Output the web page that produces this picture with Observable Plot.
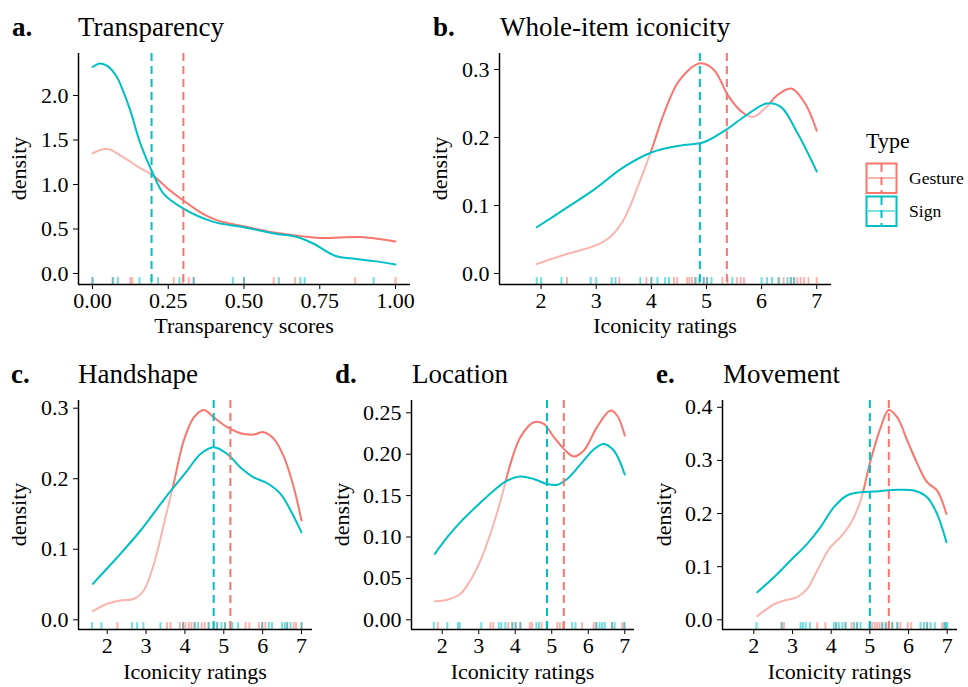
<!DOCTYPE html>
<html><head><meta charset="utf-8">
<script src="https://cdn.jsdelivr.net/npm/d3@7"></script>
<script src="https://cdn.jsdelivr.net/npm/@observablehq/plot@0.6"></script>
<style>
body{margin:0;background:#fff;}
#chart{position:relative;width:968px;height:687px;background:#fff;overflow:hidden;}
#chart svg{position:absolute;}
</style></head><body><div id="chart"></div>
<script>
// ---------- data ----------
const types = ["Gesture", "Sign"];
const panelLetters = ["a.", "b.", "c.", "d.", "e."];
const panelTitles = ["Transparency", "Whole-item iconicity", "Handshape", "Location", "Movement"];
const xTitles = ["Transparency scores", "Iconicity ratings", "Iconicity ratings", "Iconicity ratings", "Iconicity ratings"];
const yTitle = "density";

// a. Transparency
const transGestureX = [0, 0.05, 0.10, 0.155, 0.20, 0.25, 0.30, 0.355, 0.41, 0.50, 0.60, 0.69, 0.75, 0.885, 0.94, 1.0];
const transGestureY = [1.35, 1.40, 1.31, 1.19, 1.10, 0.95, 0.82, 0.69, 0.60, 0.53, 0.46, 0.42, 0.40, 0.41, 0.39, 0.36];
const transSignX = [0, 0.025, 0.05, 0.08, 0.10, 0.125, 0.158, 0.20, 0.235, 0.30, 0.40, 0.50, 0.60, 0.675, 0.73, 0.80, 0.866, 0.93, 1.0];
const transSignY = [2.32, 2.36, 2.33, 2.21, 2.06, 1.83, 1.46, 1.12, 0.895, 0.73, 0.58, 0.52, 0.45, 0.41, 0.334, 0.20, 0.165, 0.139, 0.10];
const transMeans = [0.30, 0.195];
const transRugGesture = [0.00, 0.067, 0.125, 0.131, 0.268, 0.298, 0.318, 0.334, 0.50, 0.598, 0.668, 0.867, 1.0];
const transRugSign = [0.00, 0.067, 0.084, 0.155, 0.194, 0.216, 0.287, 0.334, 0.463, 0.50, 0.615, 0.686, 0.70, 0.928];

// b. Whole-item iconicity
const wholeGestureX = [1.92, 2.48, 2.98, 3.24, 3.49, 3.75, 4.00, 4.25, 4.51, 4.89, 5.14, 5.39, 5.65, 5.84, 6.09, 6.28, 6.54, 6.79, 7.00];
const wholeGestureY = [0.014, 0.029, 0.041, 0.053, 0.078, 0.127, 0.181, 0.240, 0.284, 0.309, 0.299, 0.262, 0.237, 0.230, 0.245, 0.262, 0.272, 0.250, 0.210];
const wholeSignX = [1.92, 2.48, 2.98, 3.49, 4.00, 4.51, 4.95, 5.33, 5.71, 6.09, 6.35, 6.66, 7.00];
const wholeSignY = [0.068, 0.0975, 0.1245, 0.156, 0.178, 0.188, 0.193, 0.210, 0.232, 0.250, 0.245, 0.205, 0.150];
const wholeMeans = [5.37, 4.88];
const wholeRugGesture = [2.47, 3.42, 3.91, 4.00, 4.41, 4.47, 4.65, 4.69, 4.74, 4.80, 4.95, 5.01, 5.29, 5.38, 5.55, 5.62, 5.68, 6.31, 6.40, 6.53, 6.59, 6.65, 6.71, 6.77, 6.85, 7.0];
const wholeRugSign = [1.92, 2.00, 2.37, 2.90, 3.00, 3.28, 3.35, 3.80, 4.00, 4.11, 4.25, 4.32, 4.80, 4.87, 4.95, 5.01, 5.09, 5.47, 6.00, 6.10, 6.19, 6.31, 6.47, 6.53, 6.59];

// c. Handshape
const handGestureX = [1.63, 2.0, 2.34, 2.69, 2.94, 3.2, 3.46, 3.71, 3.97, 4.23, 4.49, 4.74, 5.09, 5.43, 5.77, 6.03, 6.29, 6.55, 6.80, 7.0];
const handGestureY = [0.0122, 0.0227, 0.0274, 0.0298, 0.0415, 0.079, 0.136, 0.193, 0.254, 0.287, 0.2976, 0.287, 0.273, 0.2645, 0.2626, 0.266, 0.2565, 0.2305, 0.188, 0.1407];
const handSignX = [1.63, 2.26, 2.86, 3.37, 3.71, 4.06, 4.40, 4.74, 5.09, 5.43, 5.77, 6.12, 6.46, 6.72, 7.0];
const handSignY = [0.051, 0.0887, 0.1266, 0.164, 0.188, 0.2116, 0.235, 0.2446, 0.235, 0.216, 0.202, 0.1936, 0.1786, 0.155, 0.124];
const handMeans = [5.17, 4.74];
const handRugGesture = [2.26, 3.54, 3.63, 3.87, 3.95, 4.01, 4.10, 4.17, 4.25, 4.43, 4.51, 4.61, 4.83, 5.03, 5.17, 5.56, 5.66, 5.90, 5.99, 6.07, 6.63, 6.80, 6.86, 7.00];
const handRugSign = [1.61, 1.85, 2.64, 2.77, 2.93, 3.37, 3.95, 4.25, 4.34, 4.61, 4.74, 4.83, 4.94, 5.03, 5.22, 5.37, 5.99, 6.16, 6.24, 6.50, 6.57, 6.63, 6.72, 7.00];

// d. Location
const locGestureX = [1.80, 2.14, 2.50, 2.77, 3.05, 3.32, 3.60, 3.87, 4.14, 4.51, 4.78, 5.06, 5.33, 5.60, 5.88, 6.24, 6.61, 6.79, 7.0];
const locGestureY = [0.0225, 0.0242, 0.0314, 0.0475, 0.0717, 0.1039, 0.1441, 0.1884, 0.2206, 0.2387, 0.2367, 0.2206, 0.2065, 0.1973, 0.2045, 0.2327, 0.2528, 0.2468, 0.2226];
const locSignX = [1.80, 2.14, 2.50, 2.96, 3.41, 3.78, 4.14, 4.51, 4.87, 5.15, 5.42, 5.79, 6.15, 6.42, 6.70, 7.0];
const locSignY = [0.0797, 0.0998, 0.118, 0.138, 0.156, 0.168, 0.173, 0.170, 0.164, 0.163, 0.170, 0.188, 0.2057, 0.2125, 0.2045, 0.1755];
const locMeans = [5.33, 4.87];
const locRugGesture = [1.88, 3.32, 3.40, 3.81, 3.92, 4.01, 4.14, 4.40, 4.46, 4.72, 5.15, 5.22, 5.31, 5.83, 6.15, 6.22, 6.65, 6.93, 6.99];
const locRugSign = [1.77, 2.14, 2.43, 2.48, 3.07, 3.55, 3.62, 3.73, 3.92, 4.01, 4.14, 4.58, 4.65, 4.86, 5.56, 5.65, 6.22, 6.31, 6.38, 6.45, 6.65, 6.72, 6.99];

// e. Movement
const movGestureX = [2.09, 2.52, 2.86, 3.12, 3.38, 3.64, 3.98, 4.24, 4.50, 4.76, 5.02, 5.28, 5.49, 5.71, 5.97, 6.23, 6.48, 6.74, 6.98];
const movGestureY = [0.0069, 0.0288, 0.0376, 0.0426, 0.0583, 0.0928, 0.1367, 0.1555, 0.1806, 0.2245, 0.300, 0.3624, 0.395, 0.381, 0.337, 0.2934, 0.259, 0.243, 0.199];
const movSignX = [2.09, 2.52, 2.95, 3.38, 3.72, 4.07, 4.41, 4.76, 5.10, 5.62, 6.14, 6.48, 6.74, 6.98];
const movSignY = [0.052, 0.080, 0.1116, 0.143, 0.174, 0.212, 0.234, 0.240, 0.2414, 0.2445, 0.2433, 0.2307, 0.199, 0.146];
const movMeans = [5.49, 5.0];
const movRugGesture = [2.72, 2.78, 3.64, 3.85, 4.13, 4.37, 4.53, 4.67, 5.06, 5.13, 5.19, 5.25, 5.32, 5.41, 5.49, 5.58, 5.71, 5.79, 5.98, 6.07, 6.48, 6.87, 6.93];
const movRugSign = [2.07, 2.72, 3.21, 3.27, 3.34, 3.45, 4.07, 4.13, 4.20, 4.29, 4.37, 4.59, 4.67, 4.76, 4.99, 5.32, 5.41, 5.58, 5.71, 6.31, 6.40, 6.48, 6.57, 6.68, 6.93, 6.97, 7.0];

// tick values
const transXTicks = [0, 0.25, 0.5, 0.75, 1];
const transYTicks = [0, 0.5, 1, 1.5, 2];
const ratingTicks = [2, 3, 4, 5, 6, 7];
const wholeYTicks = [0, 0.1, 0.2, 0.3];
const handYTicks = [0, 0.1, 0.2, 0.3];
const locYTicks = [0, 0.05, 0.10, 0.15, 0.20, 0.25];
const movYTicks = [0, 0.1, 0.2, 0.3, 0.4];

// ---------- styling ----------
const RED = "#F8766D", TEAL = "#00BFC4", PINK = "#FAB4AF";
const FONT = "'Liberation Serif', 'Times New Roman', serif";

const panels = [
  {box:{x:0,y:0,w:420,h:345}, frame:{l:78,r:410,t:53,b:284}, xDomain:[-0.0462,1.0495], yDomain:[-0.1236,2.472],
   xTicks:transXTicks, yTicks:transYTicks, xFmt:d3.format(".2f"), yFmt:d3.format(".1f"),
   gx:transGestureX, gy:transGestureY, sx:transSignX, sy:transSignY, means:transMeans, rugG:transRugGesture, rugS:transRugSign},
  {box:{x:420,y:0,w:420,h:345}, frame:{l:499,r:831,t:53,b:284}, xDomain:[1.245,7.268], yDomain:[-0.01618,0.3235],
   xTicks:ratingTicks, yTicks:wholeYTicks, xFmt:d3.format("d"), yFmt:d3.format(".1f"),
   gx:wholeGestureX, gy:wholeGestureY, sx:wholeSignX, sy:wholeSignY, means:wholeMeans, rugG:wholeRugGesture, rugS:wholeRugSign},
  {box:{x:0,y:345,w:320,h:342}, frame:{l:78,r:312,t:400,b:629}, xDomain:[1.261,7.283], yDomain:[-0.01375,0.3109],
   xTicks:ratingTicks, yTicks:handYTicks, xFmt:d3.format("d"), yFmt:d3.format(".1f"),
   gx:handGestureX, gy:handGestureY, sx:handSignX, sy:handSignY, means:handMeans, rugG:handRugGesture, rugS:handRugSign},
  {box:{x:320,y:345,w:320,h:342}, frame:{l:411,r:634,t:400,b:629}, xDomain:[1.159,7.266], yDomain:[-0.01171,0.2649],
   xTicks:ratingTicks, yTicks:locYTicks, xFmt:d3.format("d"), yFmt:d3.format(".2f"),
   gx:locGestureX, gy:locGestureY, sx:locSignX, sy:locSignY, means:locMeans, rugG:locRugGesture, rugS:locRugSign},
  {box:{x:640,y:345,w:328,h:342}, frame:{l:722,r:957,t:400,b:629}, xDomain:[1.191,7.266], yDomain:[-0.01825,0.4128],
   xTicks:ratingTicks, yTicks:movYTicks, xFmt:d3.format("d"), yFmt:d3.format(".1f"),
   gx:movGestureX, gy:movGestureY, sx:movSignX, sy:movSignY, means:movMeans, rugG:movRugGesture, rugS:movRugSign}
];

function makePanel(p, idx) {
  const gesturePts = p.gx.map((x, i) => ({x, y: p.gy[i]}));
  const signPts = p.sx.map((x, i) => ({x, y: p.sy[i]}));
  const rug = [
    ...p.rugG.map(x => ({x, type: types[0]})),
    ...p.rugS.map(x => ({x, type: types[1]}))
  ];
  const rugTop = p.yDomain[0] + (p.yDomain[1] - p.yDomain[0]) * 0.03;
  const means = [{x: p.means[0], type: types[0]}, {x: p.means[1], type: types[1]}];
  const col = t => t === "Gesture" ? RED : TEAL;

  const svg = Plot.plot({
    width: p.box.w, height: p.box.h,
    marginLeft: p.frame.l - p.box.x, marginRight: p.box.x + p.box.w - p.frame.r,
    marginTop: p.frame.t - p.box.y, marginBottom: p.box.y + p.box.h - p.frame.b,
    x: {domain: p.xDomain}, y: {domain: p.yDomain},
    color: {type: "identity"},
    style: {background: "none", fontFamily: FONT, fontSize: "22px", color: "black", overflow: "visible"},
    marks: [
      Plot.ruleX(rug, {x: "x", y1: p.yDomain[0], y2: rugTop, stroke: d => col(d.type), strokeOpacity: 0.55, strokeWidth: 2}),
      Plot.line(gesturePts, {x: "x", y: "y", stroke: RED, strokeWidth: 2, curve: "catmull-rom"}),
      Plot.line(gesturePts, {x: "x", y: "y", stroke: PINK, strokeWidth: 2, curve: "catmull-rom"}),
      Plot.line(signPts, {x: "x", y: "y", stroke: TEAL, strokeWidth: 2, curve: "catmull-rom"}),
      Plot.ruleX(means, {x: "x", stroke: d => col(d.type), strokeWidth: 2, strokeDasharray: "8,5"}),
      Plot.axisX({ticks: p.xTicks, tickFormat: p.xFmt, tickSize: 5, tickPadding: 3, label: null}),
      Plot.axisY({ticks: p.yTicks, tickFormat: p.yFmt, tickSize: 5, tickPadding: 5, label: null}),
      Plot.ruleX([p.xDomain[0]], {stroke: "black", strokeWidth: 1.5}),
      Plot.ruleY([p.yDomain[0]], {stroke: "black", strokeWidth: 1.5})
    ]
  });
  svg.style.left = p.box.x + "px";
  svg.style.top = p.box.y + "px";

  // Gesture curve: red where it lies above the Sign curve, light where it lies below it
  const lines = svg.querySelectorAll('g[aria-label="line"]');
  if (lines.length >= 3) {
    const signPath = lines[2].querySelector("path").getAttribute("d");
    const X = d3.scaleLinear(p.xDomain, [p.frame.l - p.box.x, p.frame.r - p.box.x]);
    const Y = d3.scaleLinear(p.yDomain, [p.frame.b - p.box.y, p.frame.t - p.box.y]);
    const x0 = X(p.sx[0]), y0 = Y(p.sy[0]);
    const x1 = X(p.sx[p.sx.length - 1]), y1 = Y(p.sy[p.sy.length - 1]);
    const bottom = p.box.h + 50, top = -50;
    const below = `${signPath}L${x1 + 8},${y1}L${x1 + 8},${bottom}L${x0 - 8},${bottom}L${x0 - 8},${y0}Z`;
    const above = `${signPath}L${x1 + 8},${y1}L${x1 + 8},${top}L${x0 - 8},${top}L${x0 - 8},${y0}Z`;
    const defs = d3.select(svg).insert("defs", ":first-child");
    defs.append("clipPath").attr("id", `clip-above-${idx}`).append("path").attr("d", above);
    defs.append("clipPath").attr("id", `clip-below-${idx}`).append("path").attr("d", below);
    lines[0].setAttribute("clip-path", `url(#clip-above-${idx})`);
    lines[1].setAttribute("clip-path", `url(#clip-below-${idx})`);
  }
  return svg;
}

const chart = document.getElementById("chart");
panels.forEach((p, i) => chart.appendChild(makePanel(p, i)));

// ---------- overlay: titles, axis titles, legend ----------
const ov = d3.select(chart).append("svg")
  .attr("width", 968).attr("height", 687)
  .style("left", "0px").style("top", "0px")
  .style("font-family", FONT).style("pointer-events", "none");

const titlePos = [
  {lx: 12, tx: 78, y: 36}, {lx: 433, tx: 500, y: 36},
  {lx: 11, tx: 78, y: 383}, {lx: 335, tx: 412, y: 383}, {lx: 656, tx: 723, y: 383}
];
const yLabelX = [26, 447, 26, 349, 671];
panels.forEach((p, i) => {
  const tp = titlePos[i];
  ov.append("text").attr("x", tp.lx).attr("y", tp.y).attr("font-size", 27).attr("font-weight", "bold").text(panelLetters[i]);
  ov.append("text").attr("x", tp.tx).attr("y", tp.y).attr("font-size", 27).text(panelTitles[i]);
  const cx = (p.frame.l + p.frame.r) / 2, cy = (p.frame.t + p.frame.b) / 2;
  ov.append("text").attr("x", cx).attr("y", p.frame.b + (i < 2 ? 49 : 50)).attr("font-size", 22)
    .attr("text-anchor", "middle").text(xTitles[i]);
  ov.append("text").attr("transform", `translate(${yLabelX[i]},${cy}) rotate(-90)`).attr("font-size", 22)
    .attr("text-anchor", "middle").text(yTitle);
});

// legend
ov.append("text").attr("x", 866).attr("y", 148).attr("font-size", 22).text("Type");
const legendRows = [{y: 163, c: RED, light: PINK}, {y: 196, c: TEAL, light: "#7FDFE1"}];
legendRows.forEach((r, i) => {
  const g = ov.append("g");
  g.append("rect").attr("x", 866.5).attr("y", r.y + 0.5).attr("width", 30).attr("height", 29.5)
    .attr("fill", "none").attr("stroke", r.c).attr("stroke-width", 2);
  g.append("line").attr("x1", 867).attr("x2", 896).attr("y1", r.y + 15).attr("y2", r.y + 15)
    .attr("stroke", r.light).attr("stroke-width", 2);
  g.append("line").attr("x1", 881.5).attr("x2", 881.5).attr("y1", r.y + 1).attr("y2", r.y + 29)
    .attr("stroke", r.c).attr("stroke-width", 2).attr("stroke-dasharray", "8,5");
  ov.append("text").attr("x", 909).attr("y", r.y + 21).attr("font-size", 17.6).text(types[i]);
});
</script></body></html>
